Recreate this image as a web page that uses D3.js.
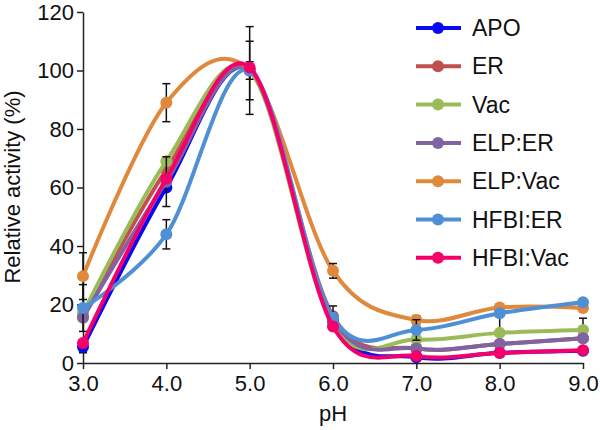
<!DOCTYPE html>
<html>
<head>
<meta charset="utf-8">
<script src="https://cdn.jsdelivr.net/npm/d3@7"></script>
<style>
  body { margin: 0; background: #fff; }
  text { font-family: "Liberation Sans", Arial, sans-serif; fill: #111; }
</style>
</head>
<body>
<script>
var pH = [3, 4, 5, 6, 7, 8, 9];
var xTicks = ["3.0", "4.0", "5.0", "6.0", "7.0", "8.0", "9.0"];
var yTicks = [0, 20, 40, 60, 80, 100, 120];

var names = ["APO", "ER", "Vac", "ELP:ER", "ELP:Vac", "HFBI:ER", "HFBI:Vac"];
var colors = ["#0a0af0", "#c0504d", "#9bbb59", "#8064a2", "#e0883c", "#4f8fd6", "#f5006a"];

var apo     = [5.5, 60, 100, 14, 2, 3.5, 4.2];
var er      = [16, 66, 100, 16, 5, 6.5, 8.5];
var vac     = [17, 69, 100, 13, 8, 10.3, 11.3];
var elpEr   = [15.5, 62, 100, 15, 5, 6.5, 8.5];
var elpVac  = [29.7, 89, 100, 31.5, 14.7, 19, 18.8];
var hfbiEr  = [18.8, 44, 100, 15.5, 11.3, 17, 20.8];
var hfbiVac = [6.8, 63, 101, 12.5, 2.4, 3.4, 4.4];

var apoErr     = [2, 0, 0, 0, 0, 0, 0];
var erErr      = [0, 0, 3, 0, 0, 0, 0];
var vacErr     = [0, 0, 0, 0, 0, 7, 4];
var elpErErr   = [0, 8.5, 0, 0, 0, 0, 0];
var elpVacErr  = [8, 6.5, 10, 2.5, 1.5, 0, 0];
var hfbiErErr  = [8, 5, 15, 4, 3.5, 0, 0];
var hfbiVacErr = [0, 0, 0, 0, 0, 0, 0];

var values = [apo, er, vac, elpEr, elpVac, hfbiEr, hfbiVac];
var errors = [apoErr, erErr, vacErr, elpErErr, elpVacErr, hfbiErErr, hfbiVacErr];

var svg = d3.select("body").append("svg").attr("width", 600).attr("height", 430);

var x = d3.scaleLinear().domain([3, 9]).range([83, 583]);
var y = d3.scaleLinear().domain([0, 120]).range([363, 12]);

// axes
var xAxis = svg.append("g").attr("transform", "translate(0,363)")
    .call(d3.axisBottom(x).tickValues(pH).tickFormat(function (d, i) { return xTicks[i]; })
        .tickSize(6).tickSizeOuter(0));
var yAxis = svg.append("g").attr("transform", "translate(83,0)")
    .call(d3.axisLeft(y).tickValues(yTicks).tickSize(6).tickSizeOuter(0));

[xAxis, yAxis].forEach(function (a) {
    a.selectAll("path, line").attr("stroke", "#222").attr("stroke-width", 1.5);
    a.selectAll("text").style("font-size", "22px").style("font-family", "Liberation Sans, Arial, sans-serif").attr("fill", "#111");
});
xAxis.selectAll("text").attr("dy", "0.85em");
yAxis.selectAll("text").attr("x", -9);

svg.append("text").attr("x", 333).attr("y", 421).attr("text-anchor", "middle")
    .style("font-size", "22px").text("pH");
svg.append("text").attr("transform", "translate(20,187) rotate(-90)").attr("text-anchor", "middle")
    .style("font-size", "22px").text("Relative activity (%)");

var line = d3.line()
    .x(function (d, i) { return x(pH[i]); })
    .y(function (d) { return y(d); })
    .curve(d3.curveCardinal.tension(0));

values.forEach(function (vals, s) {
    var g = svg.append("g");
    g.append("path").datum(vals)
        .attr("d", line)
        .attr("fill", "none")
        .attr("stroke", colors[s])
        .attr("stroke-width", 4);

    var pts = vals.map(function (v, i) { return { px: pH[i], v: v, e: errors[s][i] }; })
        .filter(function (p) { return p.e > 0; });
    var eb = g.selectAll(".eb").data(pts).enter().append("g");
    eb.append("line")
        .attr("x1", function (p) { return x(p.px); })
        .attr("x2", function (p) { return x(p.px); })
        .attr("y1", function (p) { return y(p.v - p.e); })
        .attr("y2", function (p) { return y(p.v + p.e); });
    [-1, 1].forEach(function (sign) {
        eb.append("line")
            .attr("x1", function (p) { return x(p.px) - 4; })
            .attr("x2", function (p) { return x(p.px) + 4; })
            .attr("y1", function (p) { return y(p.v + sign * p.e); })
            .attr("y2", function (p) { return y(p.v + sign * p.e); });
    });
    eb.selectAll("line").attr("stroke", "#111").attr("stroke-width", 1.5);

    g.selectAll("circle").data(vals).enter().append("circle")
        .attr("cx", function (d, i) { return x(pH[i]); })
        .attr("cy", function (d) { return y(d); })
        .attr("r", 6)
        .attr("fill", colors[s]);
});

// legend
var legend = svg.append("g");
names.forEach(function (n, i) {
    var ly = 28 + i * 38.3;
    legend.append("line").attr("x1", 416).attr("x2", 461).attr("y1", ly).attr("y2", ly)
        .attr("stroke", colors[i]).attr("stroke-width", 4);
    legend.append("circle").attr("cx", 438).attr("cy", ly).attr("r", 6).attr("fill", colors[i]);
    legend.append("text").attr("x", 472).attr("y", ly + 8).style("font-size", "23px").text(n);
});
</script>
</body>
</html>
